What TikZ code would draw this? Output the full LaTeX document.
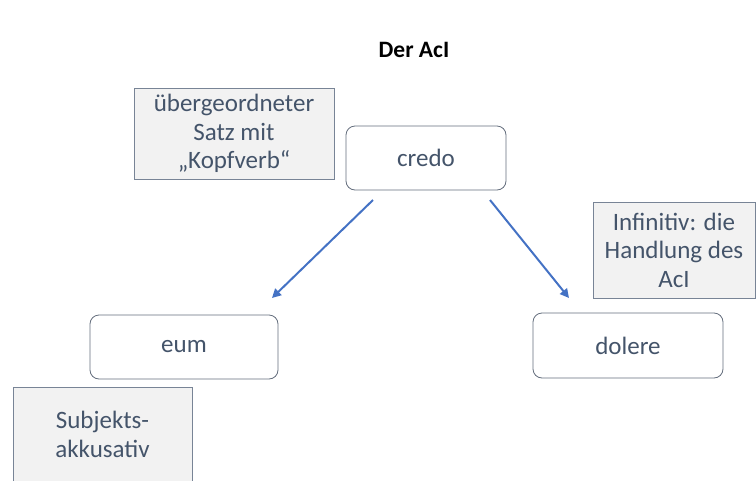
\documentclass[tikz,border=0pt]{standalone}
\usepackage{fontspec}
\setmainfont{Carlito}
\usetikzlibrary{arrows.meta}
\definecolor{txt}{RGB}{68,84,106}
\definecolor{grayfill}{RGB}{242,242,242}
\definecolor{grayline}{RGB}{120,132,150}
\definecolor{roundline}{RGB}{100,110,125}
\definecolor{arrowblue}{RGB}{68,114,196}
\begin{document}
\begin{tikzpicture}[x=1pt,y=-1pt,
  note/.style={draw=grayline, line width=0.8pt, fill=grayfill, text=txt, align=center,
    inner sep=0pt, font=\fontsize{25}{28.5}\selectfont},
  word/.style={draw=roundline, line width=0.8pt, fill=white, rounded corners=9pt, text=txt,
    inner sep=0pt, font=\fontsize{25}{28.5}\selectfont},
  link/.style={draw=arrowblue, line width=2pt, -{Triangle[length=9pt,width=9pt]}}
]
\useasboundingbox (0,0) rectangle (756,480);
\node[font=\bfseries\fontsize{23.5}{26}\selectfont] (title) at (414,50) {Der AcI};
\node[note, minimum width=200pt, minimum height=91pt] (sup) at (234,133.5)
  {übergeordneter\\Satz mit\\„Kopfverb“};
\node[word, minimum width=160pt, minimum height=64pt] (credo) at (426,158) {credo};
\node[note, minimum width=162pt, minimum height=96pt] (inf) at (674,250)
  {Infinitiv: die\\Handlung des\\AcI};
\node[word, minimum width=190pt, minimum height=65pt] (dolere) at (628,345.5) {dolere};
\node[word, minimum width=188pt, minimum height=64pt] (eum) at (184,347) {eum};
\node[note, minimum width=179pt, minimum height=95pt] (subj) at (102.5,434.5)
  {Subjekts-\\akkusativ};
\coordinate (la) at (373,200);
\coordinate (lb) at (272,298);
\coordinate (ra) at (490,200);
\coordinate (rb) at (569,298);
\draw[link] (la) -- (lb);
\draw[link] (ra) -- (rb);
\end{tikzpicture}
\end{document}
